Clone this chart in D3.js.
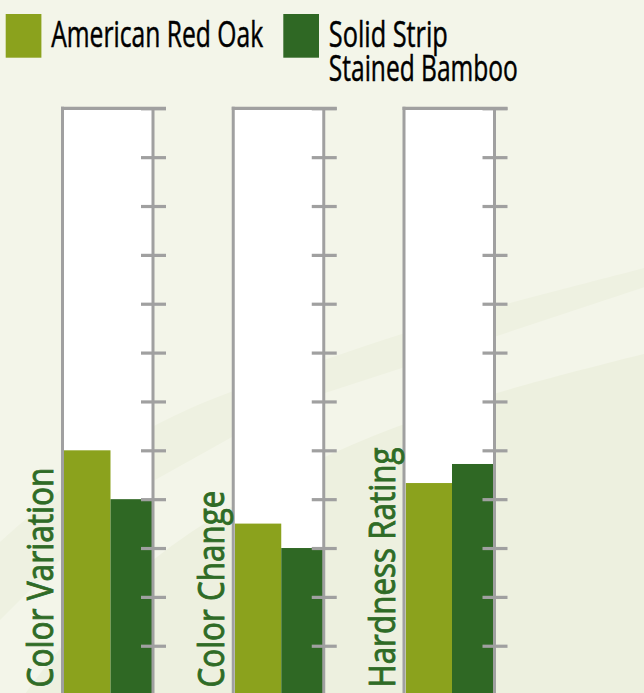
<!DOCTYPE html>
<html>
<head>
<meta charset="utf-8">
<script src="https://cdn.jsdelivr.net/npm/d3@7"></script>
<style>
  html, body { margin: 0; padding: 0; background: #f3f5e9; }
  svg { display: block; }
</style>
</head>
<body>
<svg id="chart" width="644" height="693"></svg>
<script>
// ---- data ----
const categories = ["Color Variation", "Color Change", "Hardness Rating"];
const seriesNames = ["American Red Oak", "Solid Strip Stained Bamboo"];
const legendLines = [["American Red Oak"], ["Solid Strip", "Stained Bamboo"]];
const oakValues = [5.0, 3.5, 4.33];
const bambooValues = [4.0, 3.0, 4.72];
const tickValues = d3.range(0, 13);

// ---- styles ----
const W = 644, H = 693;
const colors = ["#8ba21d", "#2f6824"];
const gray = "#a0a0a0";
const labelColor = "#2f6b26";
const fontFam = "'Open Sans', 'Noto Sans', sans-serif";

const svg = d3.select("#chart");

// background decorative bands
const bg = svg.append("g");
bg.append("rect").attr("width", W).attr("height", H).attr("fill", "#f3f5e9");
const line = d3.line().curve(d3.curveBasis);
const C2 = [[-20, 560], [80, 470], [155, 423], [232, 390], [325, 360], [402, 333], [497, 306], [660, 264]];
const C1 = [[-20, 640], [80, 540], [155, 480], [232, 437], [325, 393], [402, 368], [497, 336], [660, 282]];
const C0 = [[-20, 760], [60, 640], [155, 555], [232, 505], [325, 455], [402, 424], [497, 391], [660, 350]];
bg.append("path")
  .attr("d", line(C2) + "L" + C1.slice().reverse().map(p => p.join(",")).join("L") + "Z")
  .attr("fill", "#eef1e1");
bg.append("path")
  .attr("d", line(C0) + "L660,720L-20,720Z")
  .attr("fill", "#edf0df");

// ---- scales ----
const xPanel = d3.scaleBand().domain(categories).range([62.5, 62.5 + 170.75 * 3]);
const panelW = 90.5;
const y = d3.scaleLinear().domain([0, 12]).range([694.6, 108.3]);
const xBar = d3.scaleBand().domain(seriesNames).range([1.5, 94.5]);

const defs = svg.append("defs");

categories.forEach((cat, i) => {
  const x0 = xPanel(cat);
  const g = svg.append("g").attr("transform", `translate(${x0},0)`);

  // white interior
  g.append("rect")
    .attr("x", 0).attr("y", y(12))
    .attr("width", panelW).attr("height", H - y(12) + 5)
    .attr("fill", "#ffffff");

  // bars (clipped to the panel interior)
  const clipId = "clip" + i;
  defs.append("clipPath").attr("id", clipId)
    .append("rect").attr("x", 1.5).attr("y", 0).attr("width", panelW - 1.5).attr("height", H + 10);
  const vals = [oakValues[i], bambooValues[i]];
  g.append("g").attr("clip-path", `url(#${clipId})`)
    .selectAll("rect").data(seriesNames).join("rect")
    .attr("x", d => xBar(d))
    .attr("width", xBar.bandwidth())
    .attr("y", (d, j) => y(vals[j]))
    .attr("height", (d, j) => y(0) - y(vals[j]))
    .attr("fill", (d, j) => colors[j]);

  // left border
  g.append("line")
    .attr("x1", 0).attr("x2", 0).attr("y1", y(12) - 1.5).attr("y2", H + 5)
    .attr("stroke", gray).attr("stroke-width", 3);
  // top border
  g.append("line")
    .attr("x1", -1.5).attr("x2", panelW + 13).attr("y1", y(12)).attr("y2", y(12))
    .attr("stroke", gray).attr("stroke-width", 3.2);

  // right axis
  const axis = d3.axisRight(y).tickValues(tickValues).tickSize(13).tickFormat("");
  const ag = g.append("g").attr("transform", `translate(${panelW},0)`).call(axis);
  ag.select(".domain").remove();
  ag.append("line")
    .attr("x1", 0).attr("x2", 0).attr("y1", y(12)).attr("y2", H + 5)
    .attr("stroke", gray).attr("stroke-width", 3);
  ag.selectAll(".tick line")
    .attr("x1", -12).attr("x2", 13)
    .attr("stroke", gray).attr("stroke-width", 3.2);

  // category label
  const lens = [220, 197, 240];
  svg.append("text")
    .attr("transform", `translate(${x0 - 9.3},${687.5}) rotate(-90)`)
    .attr("font-family", fontFam)
    .attr("font-size", 37)
    .attr("fill", labelColor)
    .attr("stroke", labelColor)
    .attr("stroke-width", 0.9)
    .attr("textLength", lens[i])
    .attr("lengthAdjust", "spacingAndGlyphs")
    .text(cat);
});

// ---- legend ----
const legendX = [5.7, 283.3];
const legendTextLens = [[212], [119, 189]];
const lg = svg.append("g");
seriesNames.forEach((s, i) => {
  lg.append("rect")
    .attr("x", legendX[i]).attr("y", 14)
    .attr("width", 35.7).attr("height", 43.7)
    .attr("fill", colors[i]);
  const t = lg.append("text")
    .attr("font-family", fontFam)
    .attr("font-size", 36)
    .attr("fill", "#000")
    .attr("stroke", "#000")
    .attr("stroke-width", 0.5);
  legendLines[i].forEach((ln, k) => {
    t.append("tspan")
      .attr("x", legendX[i] + 45.5)
      .attr("y", 46.7 + k * 34.3)
      .attr("textLength", legendTextLens[i][k])
      .attr("lengthAdjust", "spacingAndGlyphs")
      .text(ln);
  });
});
</script>
</body>
</html>
